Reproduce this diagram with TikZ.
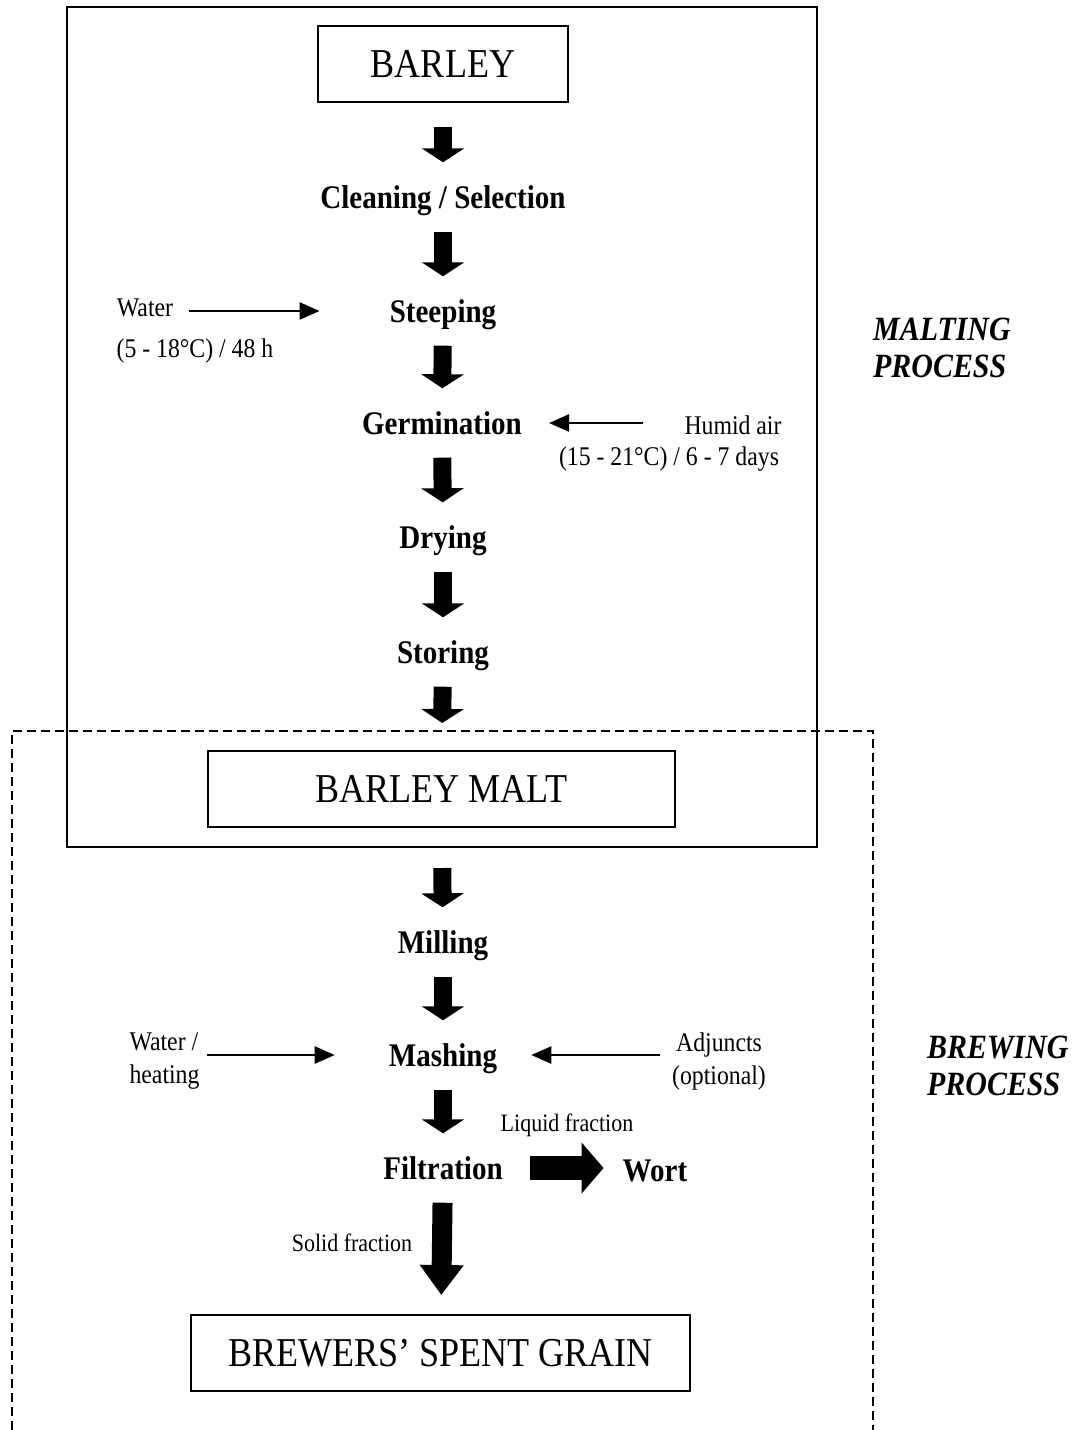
\documentclass[tikz,border=0pt]{standalone}
\usepackage{fontspec}
\setmainfont{Liberation Serif}[FakeStretch=0.88]
\usetikzlibrary{arrows.meta}
\tikzset{
  product/.style={draw, line width=2pt, inner sep=0pt, minimum height=76pt,
    font=\fontsize{41}{41}\selectfont},
  stage/.style={inner xsep=4pt, inner ysep=20pt, text height=26pt, text depth=3pt,
    font=\bfseries\fontsize{33}{33}\selectfont},
  note/.style={inner sep=3pt, font=\fontsize{27}{33}\selectfont},
  remark/.style={inner sep=3pt, font=\fontsize{25}{25}\selectfont},
  process/.style={align=left, anchor=west, inner sep=0pt,
    font=\bfseries\itshape\fontsize{34}{37}\selectfont},
  down/.style={line width=18pt, -{Triangle[width=42pt,length=14pt]}},
  bigdown/.style={line width=20pt, -{Triangle[width=42pt,length=30pt]}},
  side/.style={line width=24pt, -{Triangle[width=50pt,length=22pt]}},
  feed/.style={line width=2.5pt, -{Triangle[width=17pt,length=20pt]}},
}
\begin{document}
\begin{tikzpicture}[x=1pt, y=-1pt]
      \useasboundingbox (0,0) rectangle (1081,1430);
      % frames
      \draw[line width=2pt] (67,7) rectangle (817,847);
      \draw[line width=1.8pt, dash pattern=on 9pt off 5pt]
        (12,1430) -- (12,731) -- (873,731) -- (873,1430);
      \draw
        (443,64) node[product, minimum width=250pt, fill=white] (barley){BARLEY}
        (443,197) node[stage] (clean){Cleaning / Selection}
        (443,311) node[stage] (steep){Steeping}
        (442,423) node[stage] (germ){Germination}
        (443,537) node[stage] (dry){Drying}
        (443,652) node[stage] (store){Storing}
        (441.5,789) node[product, minimum width=467pt, fill=white] (malt){BARLEY MALT}
        (443,942) node[stage] (mill){Milling}
        (443,1055) node[stage] (mash){Mashing}
        (443,1168) node[stage] (filt){Filtration}
        (655,1170) node[stage] (wort){Wort}
        (440.5,1353) node[product, minimum width=499pt] (bsg){BREWERS’ SPENT GRAIN};
      \draw
        (145,308) node[note] (water){Water}
        (195,351) node[note] (steepcond){(5 - 18°C) / 48 h}
        (733,425) node[note] (humid){Humid air}
        (669,459) node[note] (germcond){(15 - 21°C) / 6 - 7 days}
        (164.5,1061) node[note, align=left] (heat){Water /\\heating}
        (719,1061) node[note, align=center] (adj){Adjuncts\\(optional)}
        (567,1125) node[remark] (liquid){Liquid fraction}
        (352,1243) node[remark] (solid){Solid fraction}
        (873,348) node[process] (malting){MALTING\\PROCESS}
        (927,1066) node[process] (brewing){BREWING\\PROCESS};
      \begin{scope}[down]
        \draw[shorten <=24pt] (barley) to (clean);
        \draw (clean) to (steep);
        \draw (steep) to (germ);
        \draw (germ) to (dry);
        \draw (dry) to (store);
        \draw[shorten >=27pt] (store) to (malt);
        \draw[shorten <=40pt] (malt) to (mill);
        \draw (mill) to (mash);
        \draw (mash) to (filt);
      \end{scope}
      \draw[bigdown, shorten >=19pt] (filt) to (bsg);
      \draw[side, shorten <=23pt, shorten >=15pt] (filt.east) to (filt.east -| wort.west);
      \begin{scope}[feed]
        \draw[shorten <=13pt, shorten >=66pt] (water.east |- steep.west) to (steep.west);
        \draw[shorten <=38pt, shorten >=23pt] (humid.west |- germ.east) to (germ.east);
        \draw[shorten <=4pt, shorten >=50pt] (heat.east |- mash.west) to (mash.west);
        \draw[shorten <=9pt, shorten >=30pt] (adj.west |- mash.east) to (mash.east);
      \end{scope}
    \end{tikzpicture}
\end{document}
